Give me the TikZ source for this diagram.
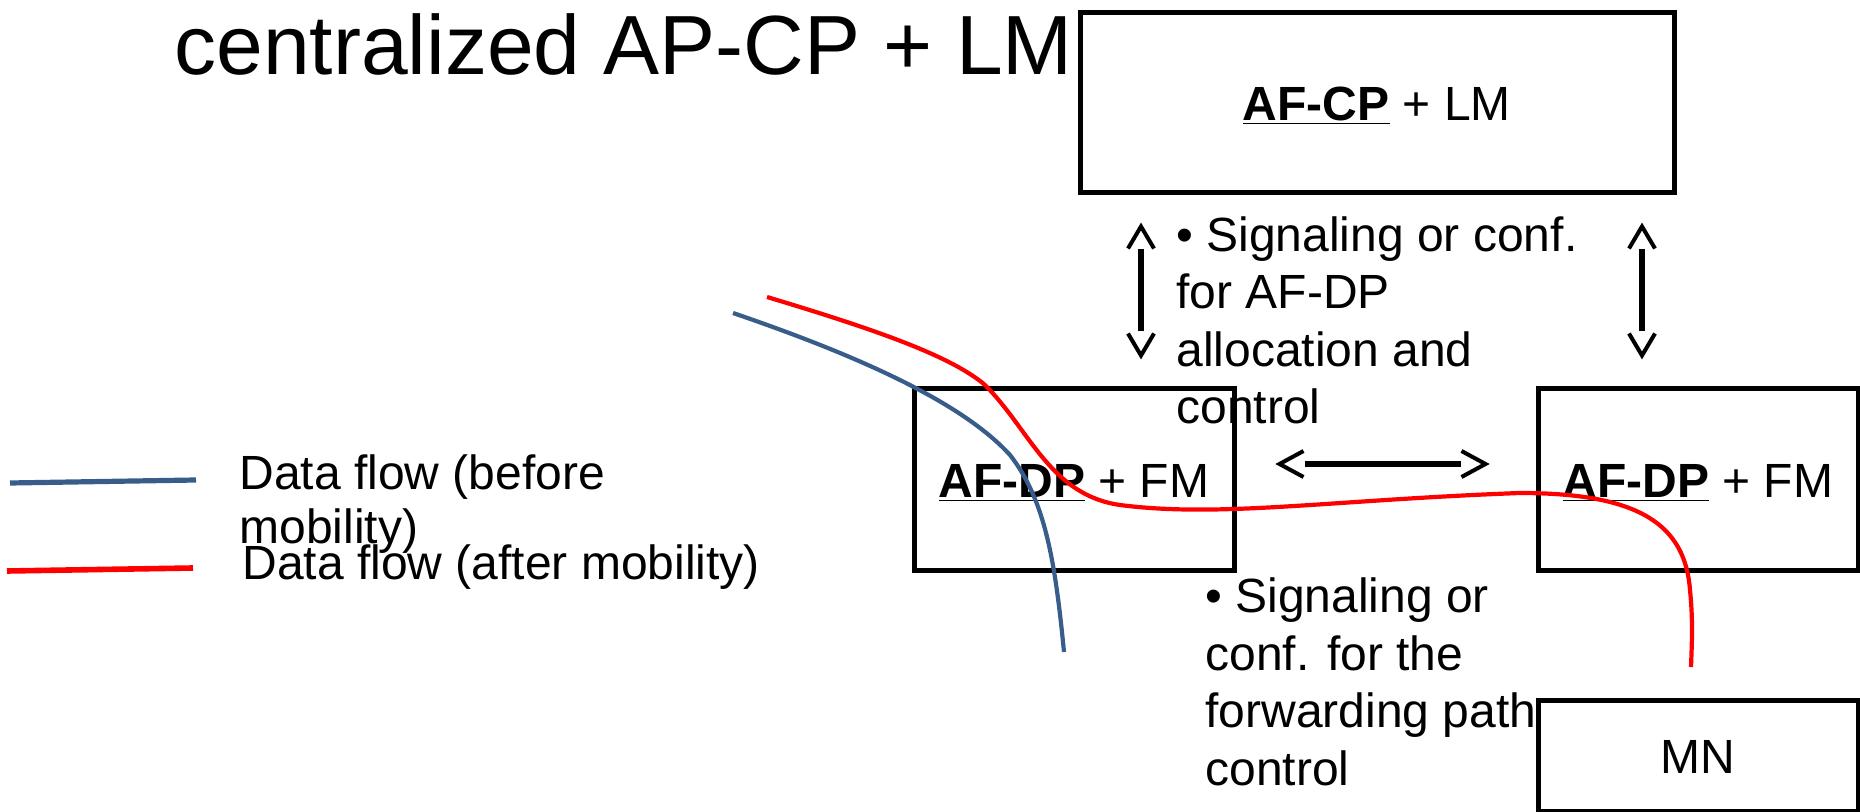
\documentclass[tikz,border=0pt]{standalone}
\usepackage{fontspec}
\setmainfont{Liberation Sans}
\usetikzlibrary{calc}
\definecolor{flowblue}{RGB}{56,93,138}
\definecolor{flowred}{RGB}{255,0,0}
\begin{document}
\begin{tikzpicture}[x=0.5pt,y=-0.5pt,
  box/.style={draw, line width=2.5pt, inner sep=0pt, text height=17.2pt, text depth=0pt,
              font=\fontsize{24}{28}\selectfont},
  lbl/.style={inner sep=0pt, anchor=base west, align=left, font=\fontsize{24}{28.75}\selectfont},
  shaft/.style={line width=2.6pt},
  chevron/.style={line width=2pt, miter limit=10},
  flow/.style={line width=2.1pt}]
\useasboundingbox (0,0) rectangle (1860,812);

% title
\node[inner sep=0pt, anchor=base west, font=\fontsize{42}{50}\selectfont] (title) at (174,75) {centralized AP-CP + LM};

% boxes
\node[box, minimum width=297pt, minimum height=90pt] (cp) at (1377,103) {\underline{\textbf{AF-CP}} + LM};
\node[box, minimum width=160pt, minimum height=91pt] (dp1) at (1074,480) {\underline{\textbf{AF-DP}} + FM};
\node[box, minimum width=160pt, minimum height=91pt] (dp2) at (1698,480) {\underline{\textbf{AF-DP}} + FM};
\node[box, minimum width=160pt, minimum height=55pt] (mn) at (1698,756) {MN};

% signaling texts (anchored at the baseline of their last line)
\node[lbl] (sig1) at (1176,424) {\textbullet{} Signaling or conf.\\for AF-DP\\allocation and\\control};
\node[lbl] (sig2) at (1205,785) {\textbullet{} Signaling or\\conf. for the\\forwarding path\\control};

% double arrows (open chevron heads, shaft stopping behind the heads)
\coordinate (al) at (1141,0);
\coordinate (ar) at (1642,0);
\coordinate (lt) at ([yshift=-15.5pt]cp.south -| al);
\coordinate (lb) at ([yshift=15.5pt]dp1.north -| al);
\coordinate (rt) at ([yshift=-15.5pt]cp.south -| ar);
\coordinate (rb) at ([yshift=15.5pt]dp2.north -| ar);
\coordinate (hl) at ([xshift=21.5pt,yshift=8pt]dp1.east);
\coordinate (hr) at ([xshift=-25pt,yshift=8pt]dp2.west);

\draw[shaft] ($(lt)+(0,23)$) -- ($(lb)+(0,-24)$);
\draw[chevron] ($(lt)+(-13,22)$) -- (lt) -- ($(lt)+(13,22)$);
\draw[chevron] ($(lb)+(-13,-22)$) -- (lb) -- ($(lb)+(13,-22)$);

\draw[shaft] ($(rt)+(0,23)$) -- ($(rb)+(0,-24)$);
\draw[chevron] ($(rt)+(-13,22)$) -- (rt) -- ($(rt)+(13,22)$);
\draw[chevron] ($(rb)+(-13,-22)$) -- (rb) -- ($(rb)+(13,-22)$);

\draw[shaft, line width=2.7pt] ($(hl)+(25,0)$) -- ($(hr)+(-25,0)$);
\draw[chevron] ($(hl)+(24,-13)$) -- (hl) -- ($(hl)+(24,13)$);
\draw[chevron] ($(hr)+(-24,-13)$) -- (hr) -- ($(hr)+(-24,13)$);

% data flows
\draw[flow, flowblue] (733,313) .. controls (850,353) and (960,400) .. (1010,455)
  .. controls (1045,500) and (1055,560) .. (1064,652);
\draw[flow, flowred] (767,297) .. controls (870,328) and (950,355) .. (985,385)
  .. controls (1030,430) and (1050,495) .. (1120,505)
  .. controls (1220,518) and (1330,500) .. (1520,493)
  .. controls (1640,493) and (1685,525) .. (1690,590)
  .. controls (1693,620) and (1692,640) .. (1691,667);

% legend
\draw[flowblue, line width=2.6pt] (10,483) -- (196,480);
\draw[flowred, line width=2.8pt] (7,571) -- (193,568);
\node[lbl, font=\fontsize{24}{27}\selectfont] (lgb) at (239,544) {Data flow (before\\mobility)};
\node[lbl] (lgr) at (242,580) {Data flow (after mobility)};
\end{tikzpicture}
\end{document}
